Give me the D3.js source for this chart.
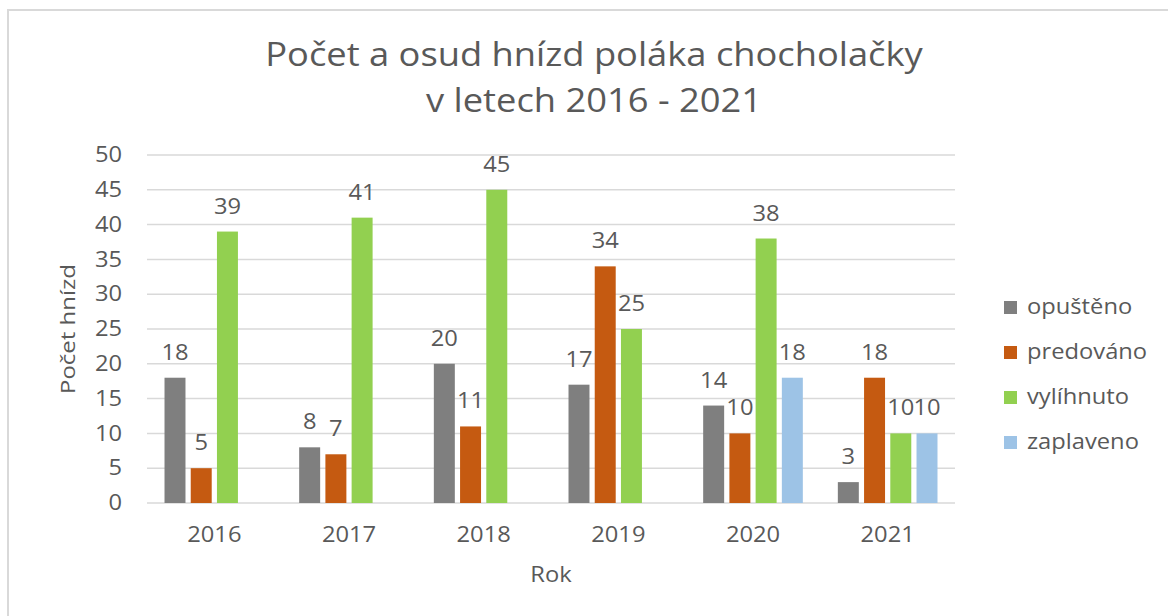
<!DOCTYPE html>
<html>
<head>
<meta charset="utf-8">
<script src="https://cdn.jsdelivr.net/npm/d3@7"></script>
<style>
    body { margin: 0; background: #fff; }
    svg text { font-family: "Open Sans", sans-serif; fill: #595959; }
</style>
</head>
<body>
<div id="chart"></div>
<script>
// data
let years = ["2016", "2017", "2018", "2019", "2020", "2021"];
let seriesNames = ["opuštěno", "predováno", "vylíhnuto", "zaplaveno"];
let opusteno = [18, 8, 20, 17, 14, 3];
let predovano = [5, 7, 11, 34, 10, 18];
let vylihnuto = [39, 41, 45, 25, 38, 10];
let zaplaveno = [null, null, null, null, 18, 10];
let yTicks = [0, 5, 10, 15, 20, 25, 30, 35, 40, 45, 50];
let colors = ["#7f7f7f", "#c55a11", "#92d050", "#9dc3e6"];

let width = 1168,
    height = 616;

// the reference font is a bit wider than Open Sans, so stretch text horizontally
let sx = 1.13;
let fs = 21;

let svg = d3.select("#chart").append("svg")
    .attr("width", width)
    .attr("height", height)
    .style("display", "block");

// chart border
svg.append("rect")
    .attr("x", 8)
    .attr("y", 10)
    .attr("width", 1200)
    .attr("height", 640)
    .attr("fill", "none")
    .attr("stroke", "#d9d9d9")
    .attr("stroke-width", 2);

let plot = {left: 147, right: 955, top: 155, bottom: 503};

let x0 = d3.scaleBand()
    .domain(years)
    .range([plot.left, plot.right])
    .paddingInner(0.26)
    .paddingOuter(0.13);

let x1 = d3.scaleBand()
    .domain(seriesNames)
    .range([0, x0.bandwidth()])
    .paddingInner(0.2);

let y = d3.scaleLinear()
    .domain([0, 50])
    .range([plot.bottom, plot.top]);

// gridlines
svg.append("g")
    .selectAll("line")
    .data(yTicks)
    .enter().append("line")
    .attr("x1", plot.left)
    .attr("x2", plot.right)
    .attr("y1", d => y(d))
    .attr("y2", d => y(d))
    .attr("stroke", "#d9d9d9")
    .attr("stroke-width", 1.5);

// y axis labels
let yAxis = d3.axisLeft(y).tickValues(yTicks).tickSize(0).tickPadding(22);
svg.append("g")
    .attr("transform", "translate(" + plot.left + ",0)")
    .call(yAxis)
    .call(g => g.select(".domain").remove())
    .selectAll("text")
    .attr("font-size", fs)
    .attr("transform", "scale(" + sx + ",1)")
    .style("font-family", "Open Sans, sans-serif")
    .attr("fill", "#595959");

// x axis labels
let xAxis = d3.axisBottom(x0).tickSize(0).tickPadding(24);
svg.append("g")
    .attr("transform", "translate(0," + plot.bottom + ")")
    .call(xAxis)
    .call(g => g.select(".domain").remove())
    .selectAll("text")
    .attr("font-size", fs)
    .attr("transform", "scale(" + sx + ",1)")
    .style("font-family", "Open Sans, sans-serif")
    .attr("fill", "#595959");

let table = years.map((yr, i) => ({
    year: yr,
    values: [opusteno[i], predovano[i], vylihnuto[i], zaplaveno[i]]
}));

let groups = svg.append("g")
    .selectAll("g")
    .data(table)
    .enter().append("g")
    .attr("transform", d => "translate(" + x0(d.year) + ",0)");

let bars = groups.selectAll("g")
    .data(d => d.values.map((v, j) => ({name: seriesNames[j], value: v, idx: j})).filter(d => d.value !== null))
    .enter().append("g");

bars.append("rect")
    .attr("x", d => x1(d.name))
    .attr("y", d => y(d.value))
    .attr("width", x1.bandwidth())
    .attr("height", d => y(0) - y(d.value))
    .attr("fill", d => colors[d.idx]);

// data labels
bars.append("text")
    .attr("transform", d => "translate(" + (x1(d.name) + x1.bandwidth() / 2) + "," + (y(d.value) - 18) + ") scale(" + sx + ",1)")
    .attr("text-anchor", "middle")
    .attr("font-size", fs)
    .text(d => d.value);

// title
svg.append("text")
    .attr("transform", "translate(594,66) scale(1.1,1)")
    .attr("text-anchor", "middle")
    .attr("font-size", 33)
    .text("Počet a osud hnízd poláka chocholačky");
svg.append("text")
    .attr("transform", "translate(594,112) scale(1.1,1)")
    .attr("text-anchor", "middle")
    .attr("font-size", 33)
    .text("v letech 2016 - 2021");

// axis titles
svg.append("text")
    .attr("transform", "translate(551,582) scale(" + sx + ",1)")
    .attr("text-anchor", "middle")
    .attr("font-size", fs)
    .text("Rok");
svg.append("text")
    .attr("transform", "translate(75," + ((plot.top + plot.bottom) / 2) + ") rotate(-90) scale(1.2,1)")
    .attr("text-anchor", "middle")
    .attr("font-size", 20)
    .text("Počet hnízd");

// legend
let legend = svg.append("g")
    .selectAll("g")
    .data(seriesNames)
    .enter().append("g")
    .attr("transform", (d, i) => "translate(1004," + (307 + i * 45) + ")");

legend.append("rect")
    .attr("x", 0)
    .attr("y", -6)
    .attr("width", 13)
    .attr("height", 13)
    .attr("fill", (d, i) => colors[i]);

legend.append("text")
    .attr("transform", "translate(23,7) scale(" + sx + ",1)")
    .attr("font-size", fs)
    .text(d => d);
</script>
</body>
</html>
